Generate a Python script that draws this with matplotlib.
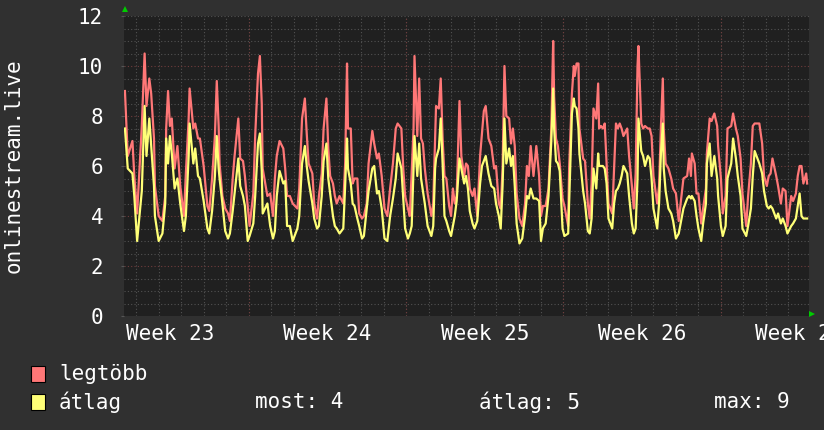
import matplotlib
matplotlib.use('Agg')
import matplotlib.pyplot as plt

# hours since the start of the graph
hours = [1, 4, 9, 11, 14, 19, 22, 24, 27, 29,
         32, 33, 37, 41, 44, 45, 47, 49, 51, 54,
         57, 60, 64, 66, 69, 70, 74, 76, 79, 81,
         85, 89, 91, 94, 97, 99, 101, 102, 105, 108,
         111, 113, 116, 118, 122, 124, 127, 129, 132, 134,
         138, 140, 143, 145, 147, 148, 153, 156, 159, 161,
         163, 166, 170, 172, 174, 177, 180, 185, 187, 190,
         193, 195, 197, 201, 203, 206, 208, 211, 213, 216,
         218, 220, 223, 225, 227, 230, 234, 236, 238, 239,
         242, 244, 246, 249, 251, 254, 256, 259, 261, 265,
         267, 270, 272, 275, 278, 281, 284, 287, 290, 292,
         296, 298, 300, 303, 305, 307, 309, 310, 313, 315,
         317, 319, 321, 324, 328, 330, 332, 333, 336, 338,
         340, 342, 344, 347, 349, 351, 353, 355, 358, 360,
         363, 365, 367, 369, 372, 374, 377, 380, 382, 384,
         386, 389, 392, 395, 397, 400, 402, 404, 406, 408,
         411, 413, 415, 417, 419, 422, 425, 428, 430, 432,
         434, 437, 440, 443, 445, 447, 450, 453, 456, 458,
         459, 461, 463, 465, 468, 470, 474, 475, 478, 480,
         481, 483, 485, 486, 490, 492, 495, 497, 499, 501,
         504, 506, 507, 509, 511, 513, 515, 517, 521, 523,
         525, 527, 529, 531, 533, 537, 539, 542, 544, 546,
         548, 549, 552, 554, 556, 559, 561, 563, 565, 569,
         571, 573, 575, 576, 578, 581, 584, 586, 589, 592,
         594, 597, 601, 603, 605, 606, 609, 611, 613, 616,
         618, 621, 622, 625, 627, 630, 633, 634, 637, 639,
         642, 644, 648, 650, 653, 655, 658, 660, 664, 666,
         669, 671, 673, 676, 678, 681, 683, 686, 688, 690,
         692, 696, 698, 701, 703, 706, 708, 712, 714, 717,
         719, 721, 723, 725, 728, 729]

legtobb = [9.0, 6.4, 7.0, 5.6, 4.1, 7.6, 10.5, 8.4, 9.5, 8.9,
           7.1, 5.2, 4.0, 3.8, 4.8, 7.5, 9.0, 7.6, 7.9, 5.9,
           6.8, 5.2, 4.0, 5.7, 7.9, 9.1, 7.5, 7.7, 7.1, 7.1,
           6.0, 4.4, 4.2, 5.5, 7.2, 9.4, 7.6, 6.1, 4.8, 4.3,
           4.1, 3.8, 5.5, 6.4, 7.9, 6.3, 6.2, 5.6, 4.4, 3.6,
           4.9, 7.2, 9.7, 10.4, 8.5, 5.9, 4.8, 4.9, 4.0, 5.5,
           6.4, 7.0, 6.7, 5.9, 4.8, 4.8, 4.5, 4.3, 5.1, 7.9,
           8.7, 7.3, 6.1, 5.7, 4.5, 3.9, 4.8, 5.7, 7.5, 8.7,
           6.7, 5.6, 5.3, 4.8, 4.5, 4.8, 4.5, 6.1, 10.1, 7.5,
           7.5, 5.3, 5.5, 5.5, 4.1, 3.9, 4.0, 4.5, 6.1, 7.4,
           6.9, 6.3, 6.5, 5.6, 4.3, 4.0, 5.1, 6.1, 7.5, 7.7,
           7.5, 5.9, 4.8, 4.3, 4.0, 5.7, 7.5, 10.4, 7.2, 9.5,
           7.1, 6.9, 5.9, 4.9, 4.0, 4.5, 7.1, 8.4, 8.3, 9.5,
           7.1, 5.6, 5.5, 4.4, 4.0, 5.1, 4.5, 4.8, 8.6, 6.4,
           5.6, 6.1, 6.0, 5.1, 4.8, 5.1, 4.0, 6.4, 7.3, 8.2,
           8.4, 7.1, 6.8, 5.9, 6.0, 4.5, 4.3, 5.9, 10.0, 8.0,
           7.9, 6.9, 7.5, 6.8, 4.9, 3.9, 3.6, 4.5, 6.0, 5.6,
           6.8, 5.6, 6.8, 5.6, 4.0, 4.4, 4.4, 5.1, 7.5, 11.0,
           8.8, 7.1, 6.8, 6.1, 4.7, 4.4, 3.6, 5.9, 8.9, 10.0,
           9.6, 10.1, 10.1, 7.5, 6.3, 6.2, 4.5, 3.9, 5.3, 8.3,
           7.9, 9.3, 7.5, 7.6, 7.5, 7.7, 6.1, 4.5, 4.1, 5.9,
           7.7, 7.5, 7.7, 7.5, 7.2, 7.5, 6.4, 5.2, 4.3, 5.7,
           10.0, 10.8, 7.7, 7.5, 7.6, 7.5, 7.5, 7.2, 5.6, 4.5,
           5.2, 7.6, 9.5, 7.5, 6.1, 5.9, 5.5, 5.1, 4.9, 3.8,
           4.5, 5.5, 5.6, 6.3, 5.6, 6.5, 6.1, 4.9, 4.9, 3.7,
           4.3, 5.1, 6.5, 7.9, 7.8, 8.1, 7.6, 6.8, 5.5, 4.1,
           4.8, 7.5, 7.6, 8.1, 7.5, 7.2, 6.3, 4.9, 3.6, 4.8,
           6.1, 7.6, 7.7, 7.7, 7.7, 6.9, 5.6, 5.2, 5.6, 5.7,
           6.3, 5.6, 5.2, 4.5, 5.1, 5.0, 3.6, 4.8, 4.6, 4.9,
           5.6, 6.0, 6.0, 5.3, 5.7, 5.3]

atlag = [7.5, 5.9, 5.7, 4.8, 3.0, 5.0, 8.4, 6.4, 7.9, 6.8,
         5.2, 4.0, 3.0, 3.3, 4.5, 7.1, 6.1, 7.2, 6.5, 5.1,
         5.5, 4.5, 3.4, 4.0, 6.4, 7.7, 6.1, 6.7, 5.6, 5.5,
         4.6, 3.5, 3.3, 4.2, 5.6, 7.2, 5.9, 5.5, 4.5, 3.4,
         3.1, 3.3, 4.2, 4.9, 6.3, 5.2, 4.8, 4.4, 3.0, 3.2,
         3.7, 4.8, 6.9, 7.3, 5.8, 4.1, 4.5, 3.6, 3.1, 3.4,
         4.8, 5.8, 5.3, 5.4, 3.6, 3.6, 3.0, 3.5, 4.0, 6.1,
         6.8, 6.0, 5.4, 4.5, 3.9, 3.5, 3.6, 4.8, 6.2, 6.9,
         5.5, 4.9, 4.0, 3.6, 3.5, 3.3, 3.5, 5.2, 7.1, 5.9,
         5.3, 4.5, 4.4, 3.9, 3.6, 3.1, 3.2, 4.3, 5.0, 5.9,
         6.0, 4.9, 5.0, 4.3, 3.1, 3.0, 4.0, 4.7, 5.5, 6.5,
         5.9, 4.7, 3.5, 3.1, 3.3, 3.6, 5.9, 7.2, 5.6, 6.9,
         5.5, 5.0, 4.5, 3.6, 3.2, 3.6, 5.9, 6.3, 6.7, 7.9,
         6.1, 4.0, 3.8, 3.4, 3.2, 3.6, 4.0, 4.6, 6.3, 5.9,
         5.3, 5.6, 5.1, 4.2, 3.7, 3.5, 3.8, 5.3, 6.0, 6.2,
         6.4, 5.7, 5.2, 5.1, 4.5, 4.0, 3.5, 5.2, 7.9, 6.1,
         6.7, 6.0, 6.4, 5.2, 3.7, 2.9, 3.1, 4.0, 4.8, 4.7,
         5.1, 4.7, 4.7, 4.6, 3.0, 3.5, 3.7, 4.8, 7.0, 9.1,
         7.5, 6.2, 6.1, 5.8, 3.5, 3.2, 3.3, 4.5, 8.1, 8.7,
         8.4, 8.3, 7.5, 6.5, 5.0, 4.5, 3.4, 3.3, 3.9, 5.9,
         5.1, 6.5, 6.0, 6.0, 6.0, 5.9, 5.3, 3.9, 3.5, 4.5,
         5.0, 5.1, 5.3, 5.6, 6.0, 5.7, 4.8, 3.7, 3.3, 3.5,
         5.5, 7.9, 6.6, 6.4, 6.0, 6.4, 6.3, 5.5, 4.3, 3.5,
         4.5, 6.5, 7.7, 5.9, 5.0, 4.3, 4.1, 3.8, 3.1, 3.3,
         3.7, 4.3, 4.7, 4.8, 4.7, 4.8, 4.6, 4.0, 3.5, 3.0,
         3.7, 4.5, 6.1, 6.9, 5.6, 6.4, 5.5, 4.8, 3.6, 3.2,
         3.6, 5.5, 6.1, 7.1, 6.3, 5.6, 4.8, 3.5, 3.2, 3.6,
         4.3, 5.6, 6.6, 6.3, 6.1, 5.7, 5.0, 4.4, 4.3, 4.4,
         4.3, 3.9, 4.1, 3.7, 3.9, 3.6, 3.3, 3.6, 3.7, 3.9,
         4.4, 4.9, 4.0, 3.9, 3.9, 3.9]

week_labels = ['Week 23', 'Week 24', 'Week 25', 'Week 26', 'Week 27']
week23_start = -35      # monday of week 23, hours relative to graph start
graph_end = 731
y_ticks = [0, 2, 4, 6, 8, 10, 12]
summary = [('most: 4', 255), ('átlag: 5', 479), ('max: 9', 714)]

BG = '#303030'
CANVAS = '#202020'
FG = '#ffffff'
RED = '#ff7777'
YELLOW = '#ffff77'
MONO = 'DejaVu Sans Mono'

W, H = 824, 430
fig = plt.figure(figsize=(W / 100, H / 100), dpi=100, facecolor=BG)
ax = fig.add_axes([124 / W, 1 - 316 / H, 685 / W, 300 / H], facecolor=CANVAS)

# grid like rrdtool: days / half units minor, weeks / 2 units major
week_starts = [week23_start + 168 * k for k in range(len(week_labels))]
for d in range(week23_start, graph_end, 24):
    if 0 < d < graph_end:
        ax.axvline(d, color='#525252', lw=0.8, ls=(0, (1, 2)), zorder=1)
for w in week_starts:
    if 0 < w < graph_end:
        ax.axvline(w, color='#703c3c', lw=0.8, ls=(0, (1, 2)), zorder=1)
for i in range(1, 25):
    v = i * 0.5
    col = '#703c3c' if v in y_ticks and v < 12 else '#525252'
    ax.axhline(v, color=col, lw=0.8, ls=(0, (1, 2)), zorder=1)

ax.plot(hours, legtobb, color=RED, lw=1.6, zorder=3)
ax.plot(hours, atlag, color=YELLOW, lw=1.6, zorder=4)

ax.set_xlim(0, graph_end)
ax.set_ylim(0, 12)
ax.set_yticks(y_ticks)
ax.set_yticklabels([str(t) for t in y_ticks])
ax.set_xticks([w + 84 for w in week_starts])
ax.set_xticklabels(week_labels)
ax.tick_params(axis='y', length=2, color='#555555', pad=13, labelsize=15, labelcolor=FG)
ax.tick_params(axis='x', length=0, pad=6, labelsize=15, labelcolor=FG)
for lab in ax.get_xticklabels() + ax.get_yticklabels():
    lab.set_family(MONO)
for s in ax.spines.values():
    s.set_visible(False)

ax.set_ylabel('onlinestream.live', family=MONO, fontsize=15, color=FG)
ax.yaxis.set_label_coords(-100 / 685, 0.5)

# little green arrows at the axis ends
ax.plot([0.002], [1.025], marker='^', color='#00cc00', ms=4, mew=0,
        transform=ax.transAxes, clip_on=False)
ax.plot([1.005], [0.006], marker='>', color='#00cc00', ms=4, mew=0,
        transform=ax.transAxes, clip_on=False)

# legend
for y, col, name in [(374, RED, 'legtöbb'), (402, YELLOW, 'átlag')]:
    fig.patches.append(plt.Rectangle((31 / W, 1 - (y + 8) / H), 14 / W, 16 / H,
                                     transform=fig.transFigure, facecolor=col,
                                     edgecolor='black', lw=0.8))
    fig.text(59 / W, 1 - y / H, name, family=MONO, fontsize=15, color=FG,
             va='center', ha='left')
for txt, x in summary:
    fig.text(x / W, 1 - 402 / H, txt, family=MONO, fontsize=15, color=FG,
             va='center', ha='left')

fig.savefig('out.png', dpi=100, facecolor=BG)
